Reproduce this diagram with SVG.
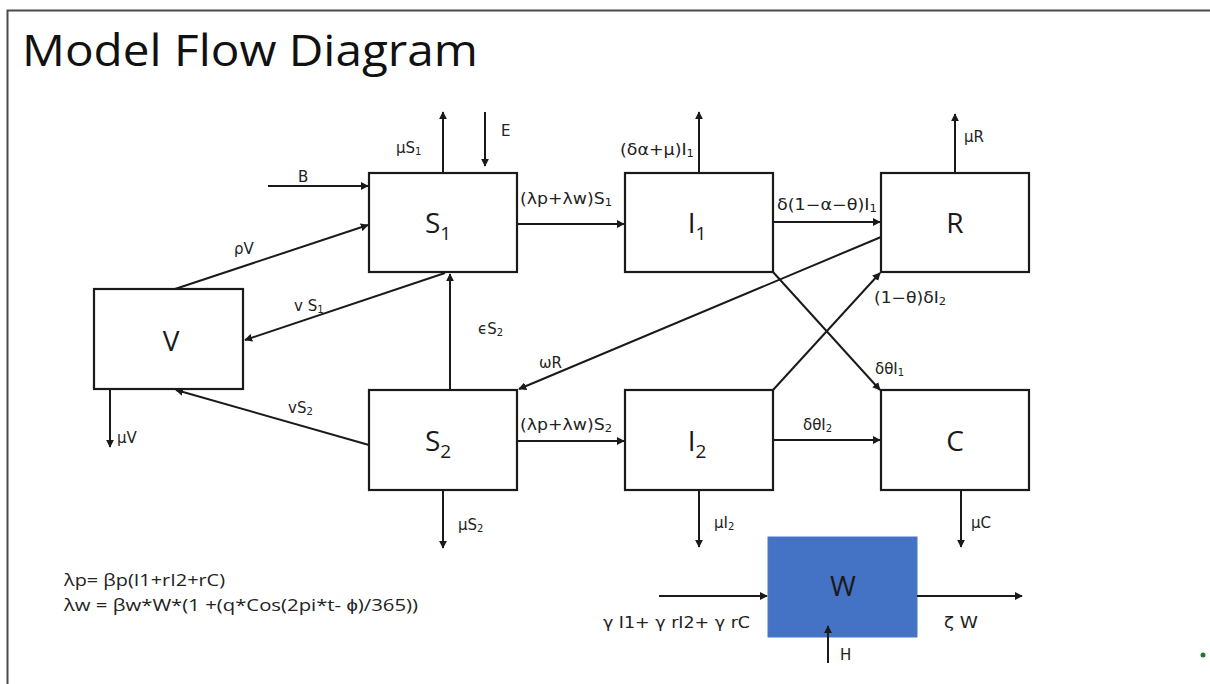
<svg xmlns="http://www.w3.org/2000/svg" width="1210" height="684" viewBox="0 0 1210 684">
  <style>
    .frame { stroke: #4a4a4a; stroke-width: 2; fill: none; }
    .box { fill: #ffffff; stroke: #1a1a1a; stroke-width: 2.2; }
    .wbox { fill: #4472c4; stroke: #4a78c8; stroke-width: 1; }
    .edge { stroke: #1a1a1a; stroke-width: 2; fill: none; marker-end: url(#ah); }
    .title { font-family: "Open Sans", "Liberation Sans", sans-serif; font-size: 44px; fill: #111; }
    .node { font-family: "Open Sans", "Liberation Sans", sans-serif; font-size: 28px; fill: #1a1a1a; text-anchor: middle; }
    .sub { font-size: 19px; }
    .lbl { font-family: "DejaVu Sans", "Verdana", sans-serif; font-size: 15px; fill: #222; }
    .ls { font-size: 10px; }
    .formula { font-family: "Open Sans", "Liberation Sans", sans-serif; font-size: 17px; fill: #222; }
  </style>
  <defs>
    <marker id="ah" viewBox="0 0 10 10" refX="9" refY="5" markerWidth="4" markerHeight="4" orient="auto" markerUnits="strokeWidth">
      <path d="M0,0 L10,5 L0,10 z" fill="#1a1a1a"/>
    </marker>
  </defs>

  <rect width="1210" height="684" fill="#ffffff"/>
  <!-- slide frame -->
  <path class="frame" d="M7.5,684 V10.5 H1210"/>

  <text class="title" x="22" y="66" textLength="456" lengthAdjust="spacingAndGlyphs">Model Flow Diagram</text>

  <!-- compartments -->
  <g id="S1">
    <rect class="box" x="369" y="173" width="148" height="99"/>
    <text class="node" x="438" y="233">S<tspan class="sub" dy="7">1</tspan></text>
  </g>
  <g id="I1">
    <rect class="box" x="625" y="173" width="148" height="99"/>
    <text class="node" x="697" y="233">I<tspan class="sub" dy="7">1</tspan></text>
  </g>
  <g id="R">
    <rect class="box" x="881" y="173" width="148" height="99"/>
    <text class="node" x="955" y="233">R</text>
  </g>
  <g id="V">
    <rect class="box" x="94" y="289" width="149" height="100"/>
    <text class="node" x="171" y="351">V</text>
  </g>
  <g id="S2">
    <rect class="box" x="369" y="390" width="148" height="100"/>
    <text class="node" x="438" y="451">S<tspan class="sub" dy="7">2</tspan></text>
  </g>
  <g id="I2">
    <rect class="box" x="625" y="390" width="148" height="100"/>
    <text class="node" x="697" y="451">I<tspan class="sub" dy="7">2</tspan></text>
  </g>
  <g id="C">
    <rect class="box" x="881" y="390" width="148" height="100"/>
    <text class="node" x="955" y="451">C</text>
  </g>
  <g id="W">
    <rect class="wbox" x="768" y="537" width="149" height="100"/>
    <text class="node" x="843" y="596" font-size="21" fill="#1a2233">W</text>
  </g>

  <!-- connectors -->
  <g id="connectors">
    <line class="edge" x1="443" y1="173" x2="443" y2="112"/>
    <line class="edge" x1="485" y1="112" x2="485" y2="166"/>
    <line class="edge" x1="268" y1="186" x2="368" y2="186"/>
    <line class="edge" x1="175" y1="289" x2="368" y2="225"/>
    <line class="edge" x1="445" y1="273" x2="245" y2="340"/>
    <line class="edge" x1="450" y1="390" x2="450" y2="274"/>
    <line class="edge" x1="881" y1="237" x2="519" y2="389"/>
    <line class="edge" x1="369" y1="445" x2="176" y2="390"/>
    <line class="edge" x1="110" y1="389" x2="110" y2="447"/>
    <line class="edge" x1="517" y1="224" x2="624" y2="224"/>
    <line class="edge" x1="699" y1="173" x2="699" y2="112"/>
    <line class="edge" x1="773" y1="222" x2="880" y2="222"/>
    <line class="edge" x1="955" y1="173" x2="955" y2="114"/>
    <line class="edge" x1="773" y1="272" x2="880" y2="390"/>
    <line class="edge" x1="773" y1="390" x2="880" y2="273"/>
    <line class="edge" x1="517" y1="441" x2="624" y2="441"/>
    <line class="edge" x1="773" y1="440" x2="880" y2="440"/>
    <line class="edge" x1="443" y1="490" x2="443" y2="548"/>
    <line class="edge" x1="699" y1="490" x2="699" y2="547"/>
    <line class="edge" x1="961" y1="490" x2="961" y2="547"/>
    <line class="edge" x1="659" y1="596" x2="767" y2="596"/>
    <line class="edge" x1="917" y1="596" x2="1022" y2="596"/>
    <line class="edge" x1="828" y1="663" x2="828" y2="626"/>

    <!-- flow labels -->
    <text class="lbl" x="396" y="153">μS<tspan class="ls" dy="2">1</tspan></text>
    <text class="lbl" x="501" y="136">E</text>
    <text class="lbl" x="298" y="182">B</text>
    <text class="lbl" x="234" y="254">ρV</text>
    <text class="lbl" x="294" y="311">v S<tspan class="ls" dy="2">1</tspan></text>
    <text class="lbl" x="478" y="334">ϵS<tspan class="ls" dy="2">2</tspan></text>
    <text class="lbl" x="539" y="368">ωR</text>
    <text class="lbl" x="288" y="413">vS<tspan class="ls" dy="2">2</tspan></text>
    <text class="lbl" x="117" y="443">μV</text>
    <text class="lbl" x="520" y="204" textLength="92" lengthAdjust="spacingAndGlyphs">(λp+λw)S<tspan class="ls" dy="2">1</tspan></text>
    <text class="lbl" x="620" y="155" textLength="74" lengthAdjust="spacingAndGlyphs">(δα+μ)I<tspan class="ls" dy="2">1</tspan></text>
    <text class="lbl" x="777" y="210" textLength="100" lengthAdjust="spacingAndGlyphs">δ(1−α−θ)I<tspan class="ls" dy="2">1</tspan></text>
    <text class="lbl" x="964" y="142">μR</text>
    <text class="lbl" x="875" y="374">δθI<tspan class="ls" dy="2">1</tspan></text>
    <text class="lbl" x="874" y="303" textLength="72" lengthAdjust="spacingAndGlyphs">(1−θ)δI<tspan class="ls" dy="2">2</tspan></text>
    <text class="lbl" x="520" y="430" textLength="92" lengthAdjust="spacingAndGlyphs">(λp+λw)S<tspan class="ls" dy="2">2</tspan></text>
    <text class="lbl" x="803" y="430">δθI<tspan class="ls" dy="2">2</tspan></text>
    <text class="lbl" x="458" y="530">μS<tspan class="ls" dy="2">2</tspan></text>
    <text class="lbl" x="714" y="528">μI<tspan class="ls" dy="2">2</tspan></text>
    <text class="lbl" x="971" y="528">μC</text>
    <text class="lbl" x="603" y="628" font-size="15" textLength="147" lengthAdjust="spacingAndGlyphs">γ I1+ γ rI2+ γ rC</text>
    <text class="lbl" x="944" y="628" font-size="16" textLength="34" lengthAdjust="spacingAndGlyphs">ζ W</text>
    <text class="lbl" x="840" y="660">H</text>
  </g>

  <!-- force of infection definitions -->
  <g id="formulas">
    <text class="formula" x="64" y="586" textLength="161" lengthAdjust="spacingAndGlyphs">λp= βp(I1+rI2+rC)</text>
    <text class="formula" x="64" y="611" textLength="354" lengthAdjust="spacingAndGlyphs">λw = βw*W*(1 +(q*Cos(2pi*t- ϕ)/365))</text>
  </g>

  <circle cx="1203" cy="655" r="2.5" fill="#1d7a2c"/>
</svg>
